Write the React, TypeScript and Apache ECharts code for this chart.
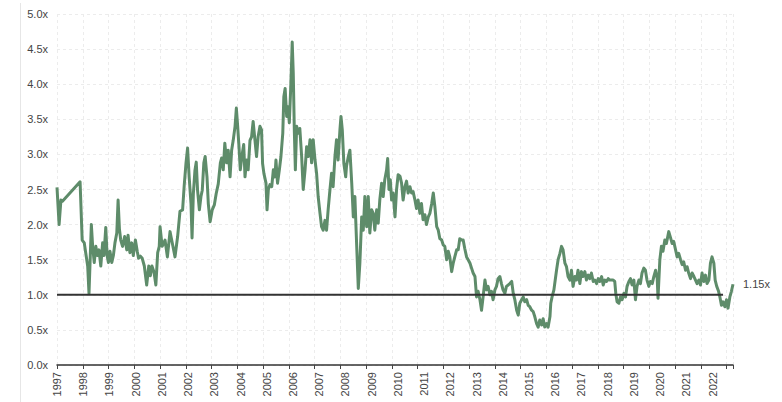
import React, { useEffect, useRef } from "react";
import * as echarts from "echarts";

// Decimal years (position of each weekly observation)
const YEARS: number[] = [
  1997.00, 1997.08, 1997.15, 1997.20, 1997.88, 1997.96,
  1998.04, 1998.11, 1998.17, 1998.22, 1998.27, 1998.31, 1998.36, 1998.42, 1998.48, 1998.54, 1998.60, 1998.67, 1998.74, 1998.79, 1998.86, 1998.91, 1998.96,
  1999.02, 1999.09, 1999.15, 1999.21, 1999.28, 1999.33, 1999.38, 1999.43, 1999.50, 1999.58, 1999.66, 1999.71, 1999.78, 1999.85, 1999.91, 1999.99,
  2000.06, 2000.11, 2000.18, 2000.25, 2000.33, 2000.42, 2000.50, 2000.56, 2000.62, 2000.70, 2000.77, 2000.84, 2000.90, 2000.93,
  2001.01, 2001.12, 2001.21, 2001.31, 2001.40, 2001.50, 2001.60, 2001.69, 2001.79, 2001.85, 2001.92, 2001.98,
  2002.04, 2002.11, 2002.15, 2002.20, 2002.26, 2002.31, 2002.36, 2002.43, 2002.49, 2002.54, 2002.60, 2002.65, 2002.72, 2002.77, 2002.84, 2002.92,
  2003.00, 2003.07, 2003.15, 2003.23, 2003.28, 2003.34, 2003.40, 2003.47, 2003.53, 2003.60, 2003.66, 2003.72, 2003.79, 2003.84, 2003.89, 2003.94, 2003.99,
  2004.05, 2004.12, 2004.17, 2004.23, 2004.29, 2004.36, 2004.42, 2004.48, 2004.55, 2004.61, 2004.67, 2004.74, 2004.80, 2004.84, 2004.89, 2004.97,
  2005.01, 2005.06, 2005.12, 2005.19, 2005.25, 2005.31, 2005.35, 2005.41, 2005.48, 2005.54, 2005.61, 2005.65, 2005.70, 2005.76, 2005.81, 2005.86, 2005.91, 2005.95, 2005.97,
  2006.01, 2006.05, 2006.09, 2006.14, 2006.20, 2006.26, 2006.33, 2006.39, 2006.46, 2006.52, 2006.58, 2006.65, 2006.71, 2006.77, 2006.84, 2006.90, 2006.96,
  2007.03, 2007.09, 2007.15, 2007.22, 2007.28, 2007.34, 2007.41, 2007.47, 2007.53, 2007.60, 2007.66, 2007.72, 2007.79, 2007.83, 2007.88, 2007.94,
  2008.01, 2008.04, 2008.11, 2008.17, 2008.24, 2008.30, 2008.36, 2008.43, 2008.49, 2008.55, 2008.62, 2008.68, 2008.74, 2008.81, 2008.87, 2008.93,
  2009.00, 2009.06, 2009.12, 2009.19, 2009.25, 2009.31, 2009.38, 2009.44, 2009.50, 2009.57, 2009.61, 2009.66, 2009.71, 2009.76, 2009.82, 2009.89, 2009.95,
  2010.01, 2010.08, 2010.14, 2010.20, 2010.27, 2010.33, 2010.39, 2010.46, 2010.52, 2010.58, 2010.65, 2010.71, 2010.77, 2010.84, 2010.90, 2010.96,
  2011.03, 2011.09, 2011.16, 2011.22, 2011.29, 2011.35, 2011.41, 2011.48, 2011.54, 2011.60, 2011.67, 2011.73, 2011.79, 2011.86, 2011.92, 2011.98,
  2012.05, 2012.11, 2012.17, 2012.24, 2012.30, 2012.36, 2012.43, 2012.49, 2012.55, 2012.62, 2012.68, 2012.75, 2012.81, 2012.87, 2012.94,
  2013.00, 2013.06, 2013.13, 2013.19, 2013.25, 2013.32, 2013.38, 2013.44, 2013.51, 2013.57, 2013.63, 2013.70, 2013.76, 2013.82, 2013.89, 2013.95,
  2014.01, 2014.08, 2014.14, 2014.21, 2014.27, 2014.34, 2014.40, 2014.46, 2014.53, 2014.59, 2014.65, 2014.72, 2014.78, 2014.84, 2014.91, 2014.97,
  2015.03, 2015.10, 2015.16, 2015.22, 2015.29, 2015.35, 2015.41, 2015.48, 2015.54, 2015.60, 2015.67, 2015.73, 2015.80, 2015.83, 2015.88, 2015.95,
  2016.00, 2016.05, 2016.11, 2016.18, 2016.24, 2016.30, 2016.37, 2016.43, 2016.49, 2016.56, 2016.62, 2016.68, 2016.75, 2016.81, 2016.87, 2016.94,
  2017.00, 2017.06, 2017.13, 2017.19, 2017.26, 2017.32, 2017.38, 2017.45, 2017.51, 2017.58, 2017.64, 2017.70, 2017.77, 2017.83, 2017.89, 2017.96,
  2018.02, 2018.08, 2018.15, 2018.21, 2018.27, 2018.31, 2018.36, 2018.43, 2018.49, 2018.55, 2018.62, 2018.68, 2018.74, 2018.81, 2018.87, 2018.93,
  2019.00, 2019.06, 2019.12, 2019.19, 2019.25, 2019.31, 2019.38, 2019.44, 2019.50, 2019.57, 2019.63, 2019.70, 2019.76, 2019.83, 2019.89, 2019.92, 2019.99,
  2020.05, 2020.11, 2020.18, 2020.24, 2020.33, 2020.40, 2020.46, 2020.52, 2020.59, 2020.65, 2020.71, 2020.78, 2020.84, 2020.90, 2020.97,
  2021.03, 2021.09, 2021.16, 2021.22, 2021.29, 2021.35, 2021.41, 2021.48, 2021.54, 2021.60, 2021.67, 2021.73, 2021.79, 2021.86, 2021.92, 2021.98,
  2022.05, 2022.10, 2022.16, 2022.23, 2022.28, 2022.34, 2022.40, 2022.47, 2022.53, 2022.59, 2022.66, 2022.72, 2022.78,
];

// Ratio values ("x")
const RATIO: number[] = [
  2.53, 2.00, 2.35, 2.33, 2.61, 1.78,
  1.74, 1.56, 1.41, 1.02, 1.56, 2.00, 1.69, 1.46, 1.69, 1.56, 1.64, 1.41, 1.74, 1.56, 1.96, 1.56, 1.46,
  1.62, 1.46, 1.56, 1.74, 1.88, 2.35, 1.94, 1.78, 1.69, 1.83, 1.64, 1.85, 1.60, 1.74, 1.56, 1.78,
  1.62, 1.52, 1.55, 1.52, 1.41, 1.14, 1.41, 1.27, 1.41, 1.32, 1.14, 1.60, 1.69, 1.97,
  1.69, 1.78, 1.54, 1.90, 1.73, 1.54, 1.83, 2.19, 2.21, 2.55, 2.88, 3.09,
  2.68, 2.30, 1.81, 2.44, 2.77, 2.89, 2.49, 2.21, 2.40, 2.49, 2.88, 2.97, 2.68, 2.30, 2.04, 2.21,
  2.28, 2.44, 2.58, 2.88, 2.95, 2.78, 3.16, 2.88, 3.06, 2.68, 3.06, 3.20, 3.40, 3.66, 3.40, 3.11, 2.78,
  2.97, 3.14, 2.68, 2.92, 2.78, 3.20, 3.25, 3.47, 3.20, 2.97, 3.25, 3.40, 3.35, 2.87, 2.73, 2.59,
  2.21, 2.50, 2.57, 2.54, 2.78, 2.68, 2.92, 2.59, 2.78, 2.97, 3.30, 3.82, 3.94, 3.54, 3.68, 3.45, 3.92, 4.35, 4.60,
  4.16, 3.35, 2.78, 3.40, 3.30, 3.37, 2.97, 2.50, 2.78, 3.11, 2.97, 3.21, 2.88, 3.21, 2.92, 2.73, 2.40,
  2.16, 1.97, 1.92, 2.06, 1.92, 2.21, 2.50, 2.73, 2.54, 2.97, 3.21, 2.92, 3.35, 3.54, 3.35, 2.87,
  2.68, 2.83, 2.97, 3.06, 2.59, 2.11, 2.40, 1.69, 1.09, 1.45, 2.11, 1.92, 2.40, 1.97, 2.40, 1.88,
  2.21, 2.16, 1.92, 2.21, 2.02, 2.35, 2.59, 2.40, 2.64, 2.78, 2.94, 2.50, 2.64, 2.35, 2.45, 2.11, 2.50,
  2.71, 2.69, 2.59, 2.35, 2.54, 2.62, 2.45, 2.54, 2.45, 2.47, 2.35, 2.23, 2.35, 2.16, 2.30, 2.07,
  2.14, 2.00, 2.11, 2.16, 2.30, 2.45, 2.26, 1.97, 1.92, 1.80, 1.78, 1.71, 1.69, 1.50, 1.62, 1.54,
  1.33, 1.45, 1.54, 1.64, 1.64, 1.80, 1.78, 1.78, 1.66, 1.54, 1.50, 1.45, 1.38, 1.31, 1.26,
  0.97, 1.05, 0.93, 0.78, 0.97, 1.21, 1.07, 1.12, 1.00, 1.05, 0.93, 1.07, 1.12, 1.23, 1.26, 1.16,
  1.07, 1.02, 1.12, 1.14, 1.16, 1.19, 1.02, 0.93, 0.78, 0.71, 0.88, 0.93, 0.97, 0.90, 0.93, 0.85,
  0.83, 0.78, 0.76, 0.69, 0.59, 0.54, 0.64, 0.57, 0.66, 0.54, 0.59, 0.54, 0.69, 0.88, 0.97, 1.07,
  1.21, 1.35, 1.50, 1.59, 1.69, 1.64, 1.45, 1.40, 1.26, 1.21, 1.35, 1.12, 1.26, 1.21, 1.35, 1.16,
  1.33, 1.26, 1.33, 1.21, 1.28, 1.23, 1.31, 1.19, 1.21, 1.16, 1.23, 1.19, 1.26, 1.14, 1.21, 1.19,
  1.23, 1.21, 1.21, 1.21, 1.19, 1.02, 0.90, 0.88, 0.97, 0.93, 1.02, 0.97, 1.12, 1.19, 1.23, 1.14,
  1.21, 0.93, 1.12, 1.21, 1.16, 1.31, 1.38, 1.35, 1.21, 1.12, 1.19, 1.16, 1.26, 1.35, 1.23, 0.95, 1.50,
  1.69, 1.62, 1.78, 1.73, 1.90, 1.81, 1.73, 1.76, 1.64, 1.54, 1.59, 1.50, 1.43, 1.47, 1.35,
  1.40, 1.31, 1.23, 1.31, 1.26, 1.21, 1.16, 1.21, 1.14, 1.31, 1.19, 1.28, 1.16, 1.21, 1.45, 1.54,
  1.45, 1.21, 1.12, 1.05, 0.97, 0.85, 0.90, 0.83, 0.93, 0.81, 0.97, 1.05, 1.15,
];

const X_START = 1997;
const X_END = 2022.78;
const BASELINE_VALUE = 1.0;
const BASELINE_END = 2022.4;
const Y_MIN = 0;
const Y_MAX = 5;
const Y_STEP = 0.5;
const GRID_DIVISIONS = 26.25; // tick/gridline spacing used on the time axis

export default function App() {
  const ref = useRef<HTMLDivElement>(null);

  useEffect(() => {
    if (!ref.current) return;
    const chart = echarts.init(ref.current, null, { renderer: "svg" });
    const data = YEARS.map((y, i) => [y, RATIO[i]]);
    const last = RATIO[RATIO.length - 1];

    chart.setOption({
      animation: false,
      textStyle: { fontFamily: "'Liberation Sans', Arial, sans-serif" },
      grid: { left: 57, right: 49, top: 14, bottom: 37, containLabel: false },
      xAxis: [
        {
          type: "value",
          min: X_START,
          max: X_END,
          interval: 1,
          position: "bottom",
          axisLine: { show: true, lineStyle: { color: "#333", width: 1.5 } },
          axisTick: { show: false },
          splitLine: { show: false },
          axisLabel: {
            rotate: 90,
            margin: 7,
            color: "#444",
            fontSize: 11,
            showMaxLabel: false,
            formatter: (v: number) => String(Math.round(v)),
          },
        },
        {
          type: "value",
          min: 0,
          max: GRID_DIVISIONS,
          interval: 1,
          position: "bottom",
          axisLine: { show: false },
          axisTick: { show: true, length: 4, lineStyle: { color: "#444", width: 1 } },
          axisLabel: { show: false },
          splitLine: { show: true, lineStyle: { color: "#ececec", type: [3, 3], width: 1 } },
        },
      ],
      yAxis: {
        type: "value",
        min: Y_MIN,
        max: Y_MAX,
        interval: Y_STEP,
        axisLine: { show: false },
        axisTick: { show: false },
        axisLabel: {
          color: "#444",
          fontSize: 11,
          margin: 9,
          formatter: (v: number) => v.toFixed(1) + "x",
        },
        splitLine: { show: true, lineStyle: { color: "#ececec", type: [3, 3], width: 1 } },
      },
      graphic: [
        {
          type: "line",
          shape: { x1: 20.5, y1: 3, x2: 20.5, y2: 402 },
          style: { stroke: "#e6e6e6", lineWidth: 1 },
          silent: true,
        },
      ],
      series: [
        {
          type: "line",
          xAxisIndex: 0,
          data,
          showSymbol: false,
          symbol: "none",
          lineStyle: { color: "#5e8c6a", width: 3, join: "round" },
          endLabel: {
            show: true,
            formatter: () => last.toFixed(2) + "x",
            color: "#444",
            fontSize: 11,
            distance: 10,
          },
          z: 2,
        },
        {
          type: "line",
          xAxisIndex: 0,
          data: [
            [X_START, BASELINE_VALUE],
            [BASELINE_END, BASELINE_VALUE],
          ],
          showSymbol: false,
          symbol: "none",
          lineStyle: { color: "#333", width: 2 },
          z: 3,
        },
      ],
    });

    return () => chart.dispose();
  }, []);

  return (
    <div
      ref={ref}
      style={{ position: "fixed", left: 0, top: 0, width: 782, height: 402, background: "#fff" }}
    />
  );
}
